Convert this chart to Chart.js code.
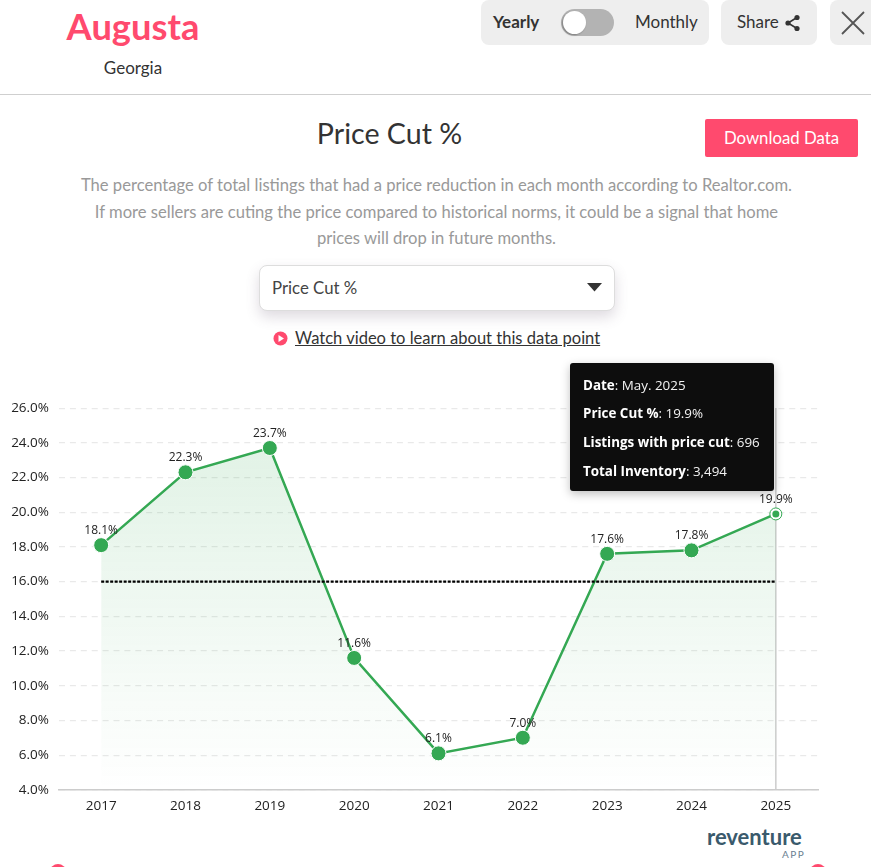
<!DOCTYPE html>
<html><head><meta charset="utf-8">
<script src="https://cdn.jsdelivr.net/npm/chart.js@4"></script>
<style>
html,body{margin:0;padding:0;background:#fff;width:871px;height:867px;overflow:hidden;font-family:Lato,sans-serif;color:#333}
.a{position:absolute;white-space:nowrap}
.c{text-align:center}
.btn{background:#eeeeee;border-radius:8px;position:absolute}
#chartWrap{position:absolute;left:0;top:390px;width:871px;height:424px}
#tip{position:absolute;left:570px;top:363px;width:204px;height:128px;background:#0d0d0d;border-radius:3px;color:#f2f2f2;font:13.4px "Open Sans",sans-serif;box-shadow:0 3px 10px rgba(0,0,0,.25)}
#tip div{position:absolute;left:13px;white-space:nowrap}
#tip b{font-weight:700;color:#fff}
</style></head><body>
<div class="a c" style="left:33px;width:200px;top:4px;font-size:36.3px;font-weight:700;color:#ff4a6e;line-height:44px">Augusta</div>
<div class="a c" style="left:33px;width:200px;top:57px;font-size:17px;color:#333;line-height:22px">Georgia</div>
<div class="btn" style="left:481px;top:0;width:228px;height:45px"></div>
<div class="a" style="left:493px;top:11px;font-size:17px;font-weight:700;line-height:22px">Yearly</div>
<div class="a" style="left:561px;top:9px;width:53px;height:27px;border-radius:14px;background:#b3b3b3"></div>
<div class="a" style="left:563px;top:11px;width:23px;height:23px;border-radius:12px;background:#fff;box-shadow:-1px 1px 2px rgba(0,0,0,.3)"></div>
<div class="a" style="left:635px;top:11px;font-size:17px;line-height:22px">Monthly</div>
<div class="btn" style="left:721px;top:0;width:96px;height:45px"></div>
<div class="a" style="left:737px;top:11px;font-size:17px;line-height:22px">Share</div>
<svg class="a" style="left:784px;top:14px" width="18" height="18" viewBox="0 0 18 18"><path d="M13 3.5L4 9l9 5.5" fill="none" stroke="#333" stroke-width="1.6"/><circle cx="13" cy="3.5" r="2.6" fill="#333"/><circle cx="4" cy="9" r="2.6" fill="#333"/><circle cx="13" cy="14.5" r="2.6" fill="#333"/></svg>
<div class="btn" style="left:830px;top:0;width:50px;height:45px"></div>
<svg class="a" style="left:840px;top:10px" width="26" height="26"><path d="M2 2L24 24M24 2L2 24" stroke="#555" stroke-width="1.8" fill="none"/></svg>
<div class="a" style="left:0;top:94px;width:871px;height:1px;background:#cfcfcf"></div>

<div class="a c" style="left:0;width:779px;top:114px;font-size:28.6px;color:#333;line-height:38px">Price Cut %</div>
<div class="a c" style="left:705px;top:119px;width:153px;height:38px;line-height:38px;background:#ff4a6e;color:#fff;font-size:16.8px;border-radius:2px">Download Data</div>
<div class="a c" style="left:0;width:873px;top:172px;font-size:16.6px;color:#999;line-height:26.5px">The percentage of total listings that had a price reduction in each month according to Realtor.com.<br>If more sellers are cuting the price compared to historical norms, it could be a signal that home<br>prices will drop in future months.</div>
<div class="a" style="left:259px;top:265px;width:354px;height:44px;border:1px solid #ddd;border-radius:8px;background:#fff;box-shadow:0 6px 14px rgba(90,70,100,.2)"></div>
<div class="a" style="left:272px;top:277px;font-size:16.8px;line-height:22px;color:#444">Price Cut %</div>
<svg class="a" style="left:587px;top:283px" width="15" height="9"><path d="M0 0H15L7.5 8.5Z" fill="#333"/></svg>
<svg class="a" style="left:273px;top:331px" width="15" height="15"><circle cx="7.5" cy="7.5" r="7" fill="#ff4a6e"/><path d="M5.5 4L11 7.5 5.5 11Z" fill="#fff"/></svg>
<div class="a" style="left:295px;top:327px;font-size:16.55px;line-height:22px;color:#333;text-decoration:underline">Watch video to learn about this data point</div>

<div id="chartWrap"><canvas id="c" width="871" height="424"></canvas></div>
<div id="tip">
<div style="top:13px"><b>Date</b>: May. 2025</div>
<div style="top:41px"><b>Price Cut %</b>: 19.9%</div>
<div style="top:70px"><b>Listings with price cut</b>: 696</div>
<div style="top:99px"><b>Total Inventory</b>: 3,494</div>
</div>
<div class="a" style="left:707px;top:823px;font:700 22px Lato,sans-serif;color:#3a5a6c;line-height:28px">reventure</div>
<div class="a" style="left:782px;top:849px;font:10px Lato,sans-serif;color:#6a8090;letter-spacing:1.5px;line-height:11px">APP</div>
<div class="a" style="left:50px;top:864px;width:16px;height:16px;border-radius:8px;background:#ff4a6e"></div>
<div class="a" style="left:810px;top:864px;width:16px;height:16px;border-radius:8px;background:#ff4a6e"></div>
<script>
const years = ['2017','2018','2019','2020','2021','2022','2023','2024','2025'];
const priceCut = [18.1,22.3,23.7,11.6,6.1,7.0,17.6,17.8,19.9];
const average = [16,16,16,16,16,16,16,16,16];
const yTicks = [4,6,8,10,12,14,16,18,20,22,24,26];
const GREEN = '#34a853';

const overlay = {
  id:'overlay',
  beforeDatasetsDraw(ch){
    const {ctx,scales:{x,y},chartArea:a}=ch;
    const px=x.getPixelForValue(priceCut.length-1);
    ctx.save();ctx.strokeStyle='#cccccc';ctx.lineWidth=1.5;
    ctx.beginPath();ctx.moveTo(px,a.top);ctx.lineTo(px,a.bottom);ctx.stroke();ctx.restore();
  },
  afterDatasetsDraw(ch){
    const {ctx}=ch;
    const pts=ch.getDatasetMeta(1).data;
    ctx.save();
    ctx.font='12px "Open Sans",sans-serif';ctx.fillStyle='#222';ctx.textAlign='center';ctx.textBaseline='alphabetic';
    pts.forEach((p,i)=>ctx.fillText(priceCut[i].toFixed(1)+'%',p.x,p.y-11));
    const l=pts[pts.length-1];
    ctx.fillStyle=GREEN;ctx.beginPath();ctx.arc(l.x,l.y,3.5,0,Math.PI*2);ctx.fill();
    ctx.restore();
  }
};

new Chart(document.getElementById('c'),{
  type:'line',
  plugins:[overlay],
  data:{labels:years,datasets:[
    {label:'Average',data:average,borderColor:'#000',borderWidth:2.2,borderDash:[3,1.5],pointRadius:0,fill:false,order:1},
    {label:'Price Cut %',data:priceCut,borderColor:GREEN,borderWidth:2.5,tension:0,
     pointRadius:priceCut.map((v,i)=>i===priceCut.length-1?6:7.5),
     pointBackgroundColor:priceCut.map((v,i)=>i===priceCut.length-1?'#fff':GREEN),
     pointBorderColor:priceCut.map((v,i)=>i===priceCut.length-1?GREEN:'#fff'),
     pointBorderWidth:1,fill:'start',order:2,
     backgroundColor(ctx){
       const a=ctx.chart.chartArea; if(!a) return 'transparent';
       const g=ctx.chart.ctx.createLinearGradient(0,a.top,0,a.bottom);
       g.addColorStop(0,'rgba(52,168,83,.16)');g.addColorStop(1,'rgba(52,168,83,0)');return g;
     }}
  ]},
  options:{
    responsive:false,animation:false,
    layout:{padding:{left:0,right:53,top:6,bottom:0}},
    plugins:{legend:{display:false},tooltip:{enabled:false},title:{display:false}},
    scales:{
      x:{offset:true,grid:{display:false,drawTicks:true},border:{color:'#cccccc',width:1.5},
         ticks:{color:'#222',font:{family:'"Open Sans"',size:13.5},padding:0,maxRotation:0}},
      y:{min:4,max:26,afterFit(s){s.width=59;},
         afterBuildTicks(s){s.ticks=yTicks.map(v=>({value:v}));},
         border:{display:false,dash:[6,4.9]},
         grid:{color:'#e9e9e9',drawTicks:false,lineWidth:1.2},
         ticks:{color:'#222',padding:10,font:{family:'"Open Sans"',size:13.5},callback:v=>v.toFixed(1)+'%'}}
    }
  }
});
</script>
</body></html>
